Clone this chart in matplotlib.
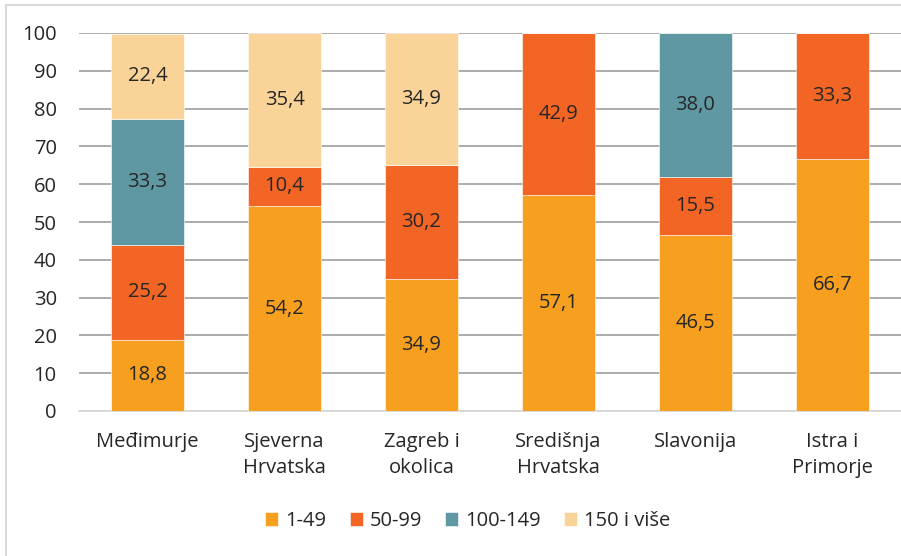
import matplotlib.pyplot as plt
import numpy as np

plt.rcParams["font.family"] = ["Open Sans", "DejaVu Sans"]

regions = ["Međimurje", "Sjeverna\nHrvatska", "Zagreb i\nokolica",
           "Središnja\nHrvatska", "Slavonija", "Istra i\nPrimorje"]
groups = ["1-49", "50-99", "100-149", "150 i više"]
share_1_49 = [18.8, 54.2, 34.9, 57.1, 46.5, 66.7]
share_50_99 = [25.2, 10.4, 30.2, 42.9, 15.5, 33.3]
share_100_149 = [33.3, 0, 0, 0, 38.0, 0]
share_150_plus = [22.4, 35.4, 34.9, 0, 0, 0]
colors = ["#F7A01F", "#F26524", "#5F98A3", "#F9D398"]

series = [share_1_49, share_50_99, share_100_149, share_150_plus]
fs = 14.5

fig = plt.figure(figsize=(9.01, 5.56), dpi=100)
ax = fig.add_axes([79 / 901, 145 / 556, 822 / 901, 378 / 556])

x = np.arange(len(regions))
bottom = np.zeros(len(regions))
for vals, name, col in zip(series, groups, colors):
    vals = np.array(vals)
    bars = ax.bar(x, vals, 0.53, bottom=bottom, color=col, label=name,
                  edgecolor="white", linewidth=0.4, zorder=2)
    for b, v, b0 in zip(bars, vals, bottom):
        if v > 0:
            ax.text(b.get_x() + b.get_width() / 2, b0 + v / 2,
                    f"{v:.1f}".replace(".", ","), ha="center", va="center",
                    fontsize=fs, color="#262626", zorder=3)
    bottom += vals

ax.set_xlim(-0.5, len(regions) - 0.5)
ax.set_ylim(0, 100)
ax.set_yticks(range(0, 101, 10))
ax.yaxis.grid(True, color="#A6A6A6", linewidth=1.3, zorder=0)
ax.set_axisbelow(True)
for s in ["top", "right", "left"]:
    ax.spines[s].set_visible(False)
ax.spines["bottom"].set_color("#D9D9D9")
ax.spines["bottom"].set_linewidth(1.3)
ax.spines["bottom"].set_zorder(1)
ax.tick_params(length=0, labelsize=fs, labelcolor="#262626")
ax.tick_params(axis="y", pad=16)
ax.tick_params(axis="x", pad=15)
ax.set_xticks(x)
ax.set_xticklabels(regions, linespacing=1.4)

fig.legend(loc="center", bbox_to_anchor=(468 / 901, 1 - 521 / 556), ncol=4,
           frameon=False, fontsize=fs, handlelength=0.65, handleheight=0.65,
           handletextpad=0.35, columnspacing=1.15, labelcolor="#262626")

# light frame around the chart
fig.add_artist(plt.Line2D([6 / 901, 6 / 901], [0, 1 - 5 / 556],
                          color="#D9D9D9", linewidth=1.5))
fig.add_artist(plt.Line2D([6 / 901, 1], [1 - 5 / 556, 1 - 5 / 556],
                          color="#D9D9D9", linewidth=1.5))

fig.savefig("out.png", dpi=100)
